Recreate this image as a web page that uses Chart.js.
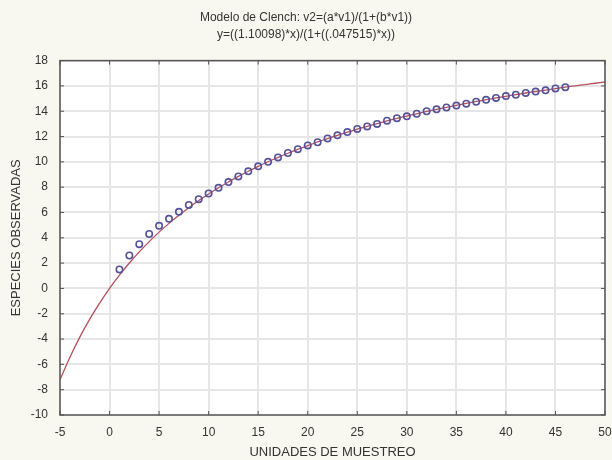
<!DOCTYPE html>
<html lang="es">
<head>
  <meta charset="UTF-8" />
  <title>Modelo de Clench</title>
  <script src="https://cdn.jsdelivr.net/npm/chart.js"></script>
  <style>
    html, body { margin: 0; padding: 0; background: #f9f8f0; }
    #wrap { width: 612px; height: 460px; }
  </style>
</head>
<body>
  <div id="wrap"><canvas id="clench"></canvas></div>

  <script>
    // datos observados (unidades de muestreo vs especies)
    const unidades = [1,2,3,4,5,6,7,8,9,10,11,12,13,14,15,16,17,18,19,20,21,22,23,
                      24,25,26,27,28,29,30,31,32,33,34,35,36,37,38,39,40,41,42,43,44,45,46];
    const especies = [1.5,2.6,3.5,4.3,4.95,5.5,6.05,6.6,7.05,7.5,7.95,8.4,8.85,9.25,9.65,10.0,
                      10.35,10.7,11.0,11.3,11.55,11.85,12.1,12.35,12.6,12.8,13.0,13.25,13.45,13.6,
                      13.8,14.0,14.15,14.3,14.45,14.6,14.75,14.9,15.05,15.2,15.3,15.45,15.55,15.65,
                      15.8,15.9];

    // curva ajustada
    const curvaX = [-5,-4,-3,-2,-1,0,1,2,3,4,5,6,7,8,9,10,11,12,13,14,15,16,17,18,19,20,
                    21,22,23,24,25,26,27,28,29,30,31,32,33,34,35,36,37,38,39,40,41,42,43,44,45,
                    46,47,48,49,50];
    const curvaY = [-7.22,-5.44,-3.85,-2.43,-1.16,0,1.05,2.01,2.89,3.70,4.45,5.14,5.78,6.38,6.94,
                    7.46,7.95,8.41,8.85,9.26,9.64,10.01,10.35,10.68,10.99,11.29,11.57,11.84,12.10,
                    12.35,12.58,12.81,13.02,13.23,13.43,13.62,13.80,13.98,14.15,14.31,14.47,14.62,
                    14.77,14.91,15.05,15.18,15.31,15.44,15.56,15.67,15.79,15.90,16.01,16.11,16.21,16.31];

    const titulo = ['Modelo de Clench: v2=(a*v1)/(1+(b*v1))', 'y=((1.10098)*x)/(1+((.047515)*x))'];
    const xTicks = { min: -5, max: 50, step: 5 };
    const yTicks = { min: -10, max: 18, step: 2 };

    // fondo blanco del area, marco completo y marcas internas
    const marco = {
      id: 'marco',
      beforeDraw(chart) {
        const a = chart.chartArea, c = chart.ctx;
        c.save();
        c.fillStyle = '#ffffff';
        c.fillRect(a.left, a.top, a.right - a.left, a.bottom - a.top);
        c.restore();
      },
      afterDatasetsDraw(chart) {
        const a = chart.chartArea, c = chart.ctx;
        c.save();
        c.strokeStyle = '#555555';
        c.lineWidth = 1.5;
        c.strokeRect(a.left, a.top, a.right - a.left, a.bottom - a.top);
        c.lineWidth = 1;
        const xs = chart.scales.x, ys = chart.scales.y;
        xs.ticks.forEach(t => {
          const px = xs.getPixelForValue(t.value);
          c.beginPath(); c.moveTo(px, a.bottom); c.lineTo(px, a.bottom - 4); c.stroke();
          c.beginPath(); c.moveTo(px, a.top); c.lineTo(px, a.top + 4); c.stroke();
        });
        ys.ticks.forEach(t => {
          const py = ys.getPixelForValue(t.value);
          c.beginPath(); c.moveTo(a.left, py); c.lineTo(a.left + 4, py); c.stroke();
          c.beginPath(); c.moveTo(a.right, py); c.lineTo(a.right - 4, py); c.stroke();
        });
        c.restore();
      }
    };

    const fuente = { family: 'Liberation Sans, Arial, sans-serif', size: 12 };
    const fuenteEje = { family: 'Liberation Sans, Arial, sans-serif', size: 13 };

    new Chart(document.getElementById('clench'), {
      type: 'scatter',
      data: {
        datasets: [
          {
            label: 'curva',
            type: 'line',
            data: curvaX.map((x, i) => ({ x: x, y: curvaY[i] })),
            borderColor: '#b4505c',
            borderWidth: 1.3,
            pointRadius: 0,
            tension: 0.4,
            fill: false,
            order: 2
          },
          {
            label: 'observadas',
            data: unidades.map((x, i) => ({ x: x, y: especies[i] })),
            borderColor: '#54539a',
            backgroundColor: 'rgba(255,255,255,0)',
            borderWidth: 1.6,
            pointRadius: 3.2,
            order: 1
          }
        ]
      },
      options: {
        responsive: true,
        maintainAspectRatio: false,
        animation: false,
        layout: { padding: { left: 0, right: 0, top: 0, bottom: 0 } },
        plugins: {
          legend: { display: false },
          tooltip: { enabled: false },
          title: {
            display: true,
            text: titulo,
            color: '#333333',
            font: { family: fuente.family, size: 12, weight: 'normal', lineHeight: 1.4 },
            padding: { top: 9, bottom: 18 }
          }
        },
        scales: {
          x: {
            type: 'linear',
            min: xTicks.min,
            max: xTicks.max,
            afterFit(s) { s.height = 45; s.paddingRight = 7; s.paddingLeft = 0; },
            ticks: { stepSize: xTicks.step, color: '#333333', font: fuente, padding: 10, maxRotation: 0 },
            grid: { color: '#e6e6e6', lineWidth: 2, drawTicks: false },
            border: { display: false },
            title: { display: true, text: 'UNIDADES DE MUESTREO', color: '#333333', font: fuenteEje, padding: { top: 4, bottom: 0 } }
          },
          y: {
            min: yTicks.min,
            max: yTicks.max,
            afterFit(s) { s.width = 60; },
            ticks: { stepSize: yTicks.step, color: '#333333', font: fuente, padding: 12 },
            grid: { color: '#e6e6e6', lineWidth: 2, drawTicks: false },
            border: { display: false },
            title: { display: true, text: 'ESPECIES OBSERVADAS', color: '#333333', font: fuenteEje, padding: { top: 9, bottom: 0 } }
          }
        }
      },
      plugins: [marco]
    });
  </script>
</body>
</html>
